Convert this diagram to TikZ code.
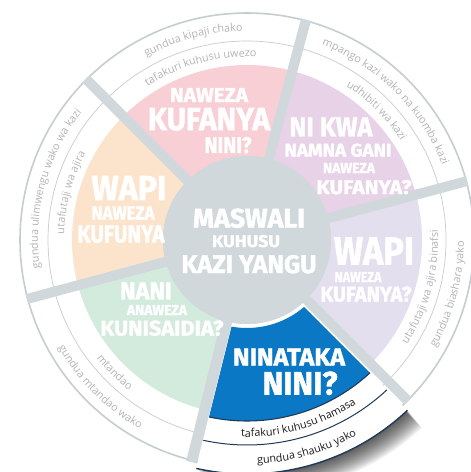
\documentclass[tikz,border=0pt]{standalone}
\usepackage{fontspec}
\usepackage{graphicx}
\usetikzlibrary{decorations.text}
\newfontfamily\hfont{Fira Sans}[BoldFeatures={FakeBold=1.6}]
\newfontfamily\ringfont{Open Sans}
\definecolor{pinkc}{HTML}{F9CFD6}
\definecolor{purpc}{HTML}{E8D2E8}
\definecolor{lavc}{HTML}{E3DFEE}
\definecolor{greenc}{HTML}{D3EBDD}
\definecolor{orangec}{HTML}{FCE4CC}
\definecolor{bluec}{HTML}{0A78C4}
\definecolor{sepc}{HTML}{D1D8DB}
\definecolor{ringc}{HTML}{C5CDD1}
\definecolor{rtext}{HTML}{B4B4B4}
\definecolor{darkc}{HTML}{1F3A56}
\definecolor{btext}{HTML}{1A1A1A}
\newcommand\HdT[3]{\resizebox{#1pt}{#2pt}{\hfont\bfseries #3}}
\newcommand\cwtext[4]{\path[decorate,decoration={text along path,text align=center,text={|\fontsize{10.8}{12}\ringfont\color{#4}|#3}}] ({#1+60}:#2) arc[start angle={#1+60}, end angle={#1-60}, radius=#2];}
\newcommand\ccwtext[4]{\path[decorate,decoration={text along path,text align=center,text={|\fontsize{10.8}{12}\ringfont\color{#4}|#3}}] ({#1-60}:#2) arc[start angle={#1-60}, end angle={#1+60}, radius=#2];}
\newcommand\bseg[2]{({-104+asin(6/#1)}:#1) -- ({-104+asin(6/#2)}:#2) arc[start angle={-104+asin(6/#2)}, end angle={-45-asin(7/#2)}, radius=#2] -- ({-45-asin(7/#1)}:#1) arc[start angle={-45-asin(7/#1)}, end angle={-104+asin(6/#1)}, radius=#1] -- cycle}
\newcommand\barc[1]{({-104+asin(6/#1)}:#1) arc[start angle={-104+asin(6/#1)}, end angle={-45-asin(7/#1)}, radius=#1]}
\tikzset{hd/.style={text=white, inner sep=0pt, anchor=base}}
\begin{document}
\begin{tikzpicture}[x=1pt,y=1pt]
\useasboundingbox (-247,-232) rectangle (224,240);
\fill[white] (-247,-232) rectangle (224,240);
% sectors
\fill[pinkc] (0,0) -- (75:175) arc[start angle=75,end angle=135,radius=175] -- cycle;
\fill[orangec] (0,0) -- (135:175) arc[start angle=135,end angle=195,radius=175] -- cycle;
\fill[greenc] (0,0) -- (195:175) arc[start angle=195,end angle=256,radius=175] -- cycle;
\fill[lavc] (0,0) -- (-45:175) arc[start angle=-45,end angle=15,radius=175] -- cycle;
\fill[purpc] (0,0) -- (15:175) arc[start angle=15,end angle=75,radius=175] -- cycle;
% rings
\draw[ringc, line width=0.7] (0,0) circle[radius=199];
\draw[ringc, line width=1.6] (0,0) circle[radius=227];
% separators
\foreach \a in {135,75,15,-45,195} \draw[sepc, line width=10] (0,0) -- (\a:228);
\fill[sepc] (0,0) circle[radius=84];
% ring texts
\cwtext{105}{209}{gundua kipaji chako}{rtext}
\cwtext{105}{183}{tafakuri kuhusu uwezo}{rtext}
\cwtext{45}{209}{mpango kazi wako na kuomba kazi}{rtext}
\cwtext{45}{183}{udhibiti wa kazi}{rtext}
\ccwtext{-15}{191}{utafutaji wa ajira binafsi}{rtext}
\ccwtext{-15}{217}{gundua biashara yako}{rtext}
\ccwtext{-135}{191}{mtandao}{rtext}
\ccwtext{-135}{217}{gundua mtandao wako}{rtext}
\cwtext{165}{183}{utafutaji wa ajira}{rtext}
\cwtext{165}{209}{gundua ulimwengu wako wa kazi}{rtext}
% shadow of blue segment
\foreach \i in {1,...,16} \fill[black, opacity=0.055, shift={({\i*0.9},{-\i*1.1})}] \bseg{88}{234};
% blue segment
\fill[white] \bseg{88}{234};
\fill[bluec] \bseg{88}{181};
\draw[darkc, line width=1.1] \barc{181};
\draw[darkc, line width=1.0] \barc{205};
\draw[darkc, line width=1.4] \barc{234};
\ccwtext{-74}{197}{tafakuri kuhusu hamasa}{btext}
\ccwtext{-74}{224}{gundua shauku yako}{btext}
\draw[sepc, line width=11] (0,0) -- (-104:229);
\fill[sepc] (0,0) circle[radius=84];
% headings
\node[hd] (p1) at (-38,138) {\HdT{78}{14}{NAWEZA}};
\node[hd] (p2) at (-38,110) {\HdT{122}{22}{KUFANYA}};
\node[hd] (p3) at (-19,87) {\HdT{47}{16}{NINI?}};
\node[hd] (u1) at (84,103.5) {\HdT{83}{19}{NI KWA}};
\node[hd] (u2) at (91,83.5) {\HdT{107}{13}{NAMNA GANI}};
\node[hd] (u3) at (102,67) {\HdT{52}{10}{NAWEZA}};
\node[hd] (u4) at (117,46) {\HdT{95}{14}{KUFANYA?}};
\node[hd] (l1) at (127,-24.5) {\HdT{80}{27}{WAPI}};
\node[hd] (l2) at (111,-42) {\HdT{47}{10}{NAWEZA}};
\node[hd] (l3) at (119,-61.5) {\HdT{91}{15}{KUFANYA?}};
\node[hd] (o1) at (-118,40) {\HdT{75}{24}{WAPI}};
\node[hd] (o2) at (-124,20.5) {\HdT{63}{13}{NAWEZA}};
\node[hd] (o3) at (-126,-2.5) {\HdT{87}{17}{KUFUNYA}};
\node[hd] (g1) at (-101,-59.5) {\HdT{52}{17}{NANI}};
\node[hd] (g2) at (-90,-75) {\HdT{60}{10}{ANAWEZA}};
\node[hd] (g3) at (-85,-95.5) {\HdT{123}{15}{KUNISAIDIA?}};
\node[hd] (c1) at (2,12.5) {\HdT{112}{19}{MASWALI}};
\node[hd] (c2) at (-1,-7) {\HdT{68}{12}{KUHUSU}};
\node[hd] (c3) at (2,-33) {\HdT{135}{18}{KAZI YANGU}};
\node[hd] (b1) at (42,-125.5) {\HdT{112}{17}{NINATAKA}};
\node[hd] (b2) at (53,-154.5) {\HdT{75}{23}{NINI?}};
\end{tikzpicture}
\end{document}
